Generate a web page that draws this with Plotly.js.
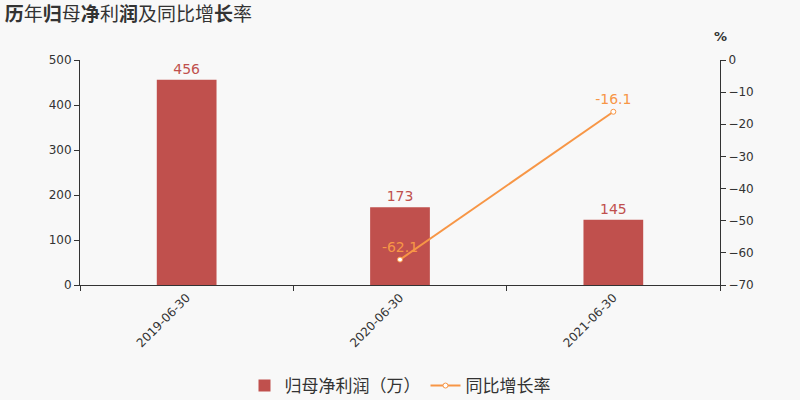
<!DOCTYPE html>
<html><head><meta charset="utf-8">
<script src="https://cdn.plot.ly/plotly-3.0.1.min.js"></script>
<style>body{margin:0;background:#f8f8f8}#c{width:800px;height:400px}</style>
</head><body><div id="c"></div>
<script>
const categories = ["2019-06-30", "2020-06-30", "2021-06-30"];
const profit = [456, 173, 145];
const growth = [null, -62.1, -16.1];
const profitName = "归母净利润（万）";
const growthName = "同比增长率";

const font = "DejaVu Sans, Noto Sans CJK SC, sans-serif";
const barColor = "#c0504d";
const lineColor = "#f79646";

const traces = [
  {type: "bar", x: categories, y: profit, name: profitName, width: 0.28,
   marker: {color: barColor}, text: profit.map(String), textposition: "outside",
   textfont: {color: barColor, size: 14, family: font}, cliponaxis: false, hoverinfo: "none"},
  {type: "scatter", mode: "lines+markers+text", x: categories, y: growth, name: growthName, yaxis: "y2",
   line: {color: lineColor, width: 2}, marker: {size: 5, color: "#ffffff", line: {color: lineColor, width: 1}},
   text: growth.map(v => v === null ? "" : v.toFixed(1)), textposition: "top center",
   textfont: {color: lineColor, size: 14, family: font}, cliponaxis: false, hoverinfo: "none"}
];

const layout = {
  width: 800, height: 400,
  paper_bgcolor: "#f8f8f8", plot_bgcolor: "#f8f8f8",
  margin: {l: 80, r: 80, t: 60, b: 115, autoexpand: false},
  font: {family: font, color: "#333", size: 12},
  title: {text: "<b>历</b>年<b>归</b>母<b>净</b>利<b>润</b>及同比增<b>长</b>率",
          xref: "container", yref: "container", x: 0.006, xanchor: "left", y: 0.965, yanchor: "middle",
          font: {size: 19, color: "#333", family: "Noto Sans CJK SC, sans-serif"}},
  showlegend: true,
  legend: {orientation: "h", x: 0.5, xanchor: "center", xref: "container", yref: "container",
           y: 0.035, yanchor: "middle",
           font: {size: 17, color: "#333", family: "Noto Sans CJK SC, sans-serif"}},
  xaxis: {type: "category", automargin: false, showline: true, linecolor: "#333", linewidth: 1, ticks: "outside", tickson: "boundaries",
          ticklen: 5, tickcolor: "#333", tickangle: -45, showgrid: false, zeroline: false,
          tickfont: {size: 12, color: "#333"}},
  yaxis: {range: [0, 500], dtick: 100, automargin: false, showline: true, linecolor: "#333", ticks: "outside", ticklen: 5,
          tickcolor: "#333", showgrid: false, zeroline: false, tickfont: {size: 12, color: "#333"}},
  yaxis2: {range: [-70, 0], dtick: 10, automargin: false, overlaying: "y", side: "right", showline: true, linecolor: "#333",
           ticks: "outside", ticklen: 5, tickcolor: "#333", showgrid: false, zeroline: false,
           tickfont: {size: 12, color: "#333"}},
  annotations: [{text: "<b>%</b>", xref: "paper", yref: "paper", x: 1, y: 1, xanchor: "center", yanchor: "bottom",
                 yshift: 14, showarrow: false, font: {size: 13, color: "#333"}}]
};
Plotly.newPlot("c", traces, layout, {displayModeBar: false, staticPlot: true});
</script></body></html>
